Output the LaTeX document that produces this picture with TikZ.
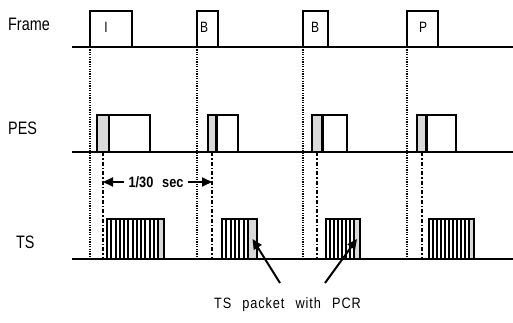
\documentclass[tikz,border=0pt]{standalone}
\usepackage{fontspec}
\setmainfont{Liberation Sans}
\newfontfamily\narrowfont[FakeStretch = 0.8]{Liberation Sans}
\newfontfamily\gapfont[FakeStretch = 0.85, WordSpace = 2.5]{Liberation Sans}
\newfontfamily\spacedfont[FakeStretch = 0.85, WordSpace = 2.5, LetterSpace = 6]{Liberation Sans}
\usetikzlibrary{positioning, calc, arrows.meta}
\definecolor{pcrgray}{gray}{0.85}
\tikzset{
rowlabel/.style = {anchor = base west, inner sep = 0pt,
   font = \narrowfont\fontsize{18pt}{20pt}\selectfont},
framelabel/.style = {anchor = base, inner sep = 0pt,
   font = \narrowfont\fontsize{15pt}{17pt}\selectfont},
periodlabel/.style = {inner sep = 4pt, font = \gapfont\bfseries\fontsize{15pt}{17pt}\selectfont},
pcrlabel/.style = {anchor = base, inner sep = 0pt,
   font = \spacedfont\fontsize{15pt}{17pt}\selectfont},
timeline/.style = {line width = 2pt},
framebox/.style = {rectangle, draw, line width = 2pt, minimum height = 36pt,
   inner sep = 0pt, outer sep = 0pt, anchor = south west},
pesheader/.style = {rectangle, draw, fill = pcrgray, line width = 2pt, minimum height = 37pt,
   inner sep = 0pt, outer sep = 0pt, anchor = south west},
pesbody/.style = {rectangle, draw, line width = 2pt, minimum height = 37pt,
   inner sep = 0pt, outer sep = 0pt},
startbar/.style = {line width = 3pt},
tsbox/.style = {rectangle, draw, line width = 2pt, minimum height = 40pt,
   inner sep = 0pt, outer sep = 0pt, anchor = south west},
pcrpacket/.style = {rectangle, draw, fill = pcrgray, line width = 2pt, minimum height = 40pt,
   inner sep = 0pt, outer sep = 0pt, anchor = south east},
stripe/.style = {line width = 2pt},
framesync/.style = {line width = 1.2pt, dash pattern = on 1.2pt off 1.2pt},
pessync/.style = {line width = 1.5pt, dash pattern = on 4pt off 2pt on 1.5pt off 2pt},
period/.style = {-{Triangle[length = 10pt, width = 9pt]}, line width = 2pt},
pointer/.style = {-{Triangle[length = 10pt, width = 9pt]}, line width = 2pt}
}

\begin{document}
\begin{tikzpicture}[x = 1pt, y = -1pt]
\useasboundingbox (0,0) rectangle (513,323);

%% Row labels
\node [rowlabel] (frame) at (8,31) {Frame};
\node [rowlabel] (pes) at (8,135) {PES};
\node [rowlabel] (ts) at (16,248) {TS};

%% The time lines
\coordinate (fl0) at (72,47);
\coordinate (fl1) at (513,47);
\coordinate (pl0) at (72,152);
\coordinate (pl1) at (513,152);
\coordinate (tl0) at (72,259);
\coordinate (tl1) at (513,259);
\draw [timeline] (fl0) -- (fl1);
\draw [timeline] (pl0) -- (pl1);
\draw [timeline] (tl0) -- (tl1);

%% Frames
\node [framebox, minimum width = 42pt] (f1) at (90,47) {};
\node [framebox, minimum width = 21pt] (f2) at (197,47) {};
\node [framebox, minimum width = 25pt] (f3) at (303,47) {};
\node [framebox, minimum width = 31pt] (f4) at (407,47) {};
\node [framelabel] (l1) at (106,33) {I};
\node [framelabel] (l2) at (204,33) {B};
\node [framelabel] (l3) at (315,33) {B};
\node [framelabel] (l4) at (423,33) {P};

%% PES packets
\node [pesheader, minimum width = 12pt] (h1) at (97,152) {};
\node [pesbody, minimum width = 41pt] (b1) [right = 0pt of h1] {};
\node [pesheader, minimum width = 8pt] (h2) at (208,152) {};
\node [pesbody, minimum width = 22pt] (b2) [right = 0pt of h2] {};
\node [pesheader, minimum width = 10pt] (h3) at (312,152) {};
\node [pesbody, minimum width = 25pt] (b3) [right = 0pt of h3] {};
\node [pesheader, minimum width = 9.5pt] (h4) at (417,152) {};
\node [pesbody, minimum width = 29.5pt] (b4) [right = 0pt of h4] {};
\draw [startbar] (h2.north east) -- (h2.south east);
\draw [startbar] (h3.north east) -- (h3.south east);
\draw [startbar] (h4.north east) -- (h4.south east);

%% TS packets
\node [tsbox, minimum width = 57pt] (ts1) at (107,259) {};
\node [pcrpacket, minimum width = 6pt] (p1) at (ts1.south east) {};
\foreach \i in {1,...,11}
   \draw [stripe] ($(ts1.south west)+(\i*4.25,0)$) -- ($(ts1.north west)+(\i*4.25,0)$);
\node [tsbox, minimum width = 35pt] (ts2) at (222,259) {};
\node [pcrpacket, minimum width = 9pt] (p2) at (ts2.south east) {};
\foreach \i in {1,...,5}
   \draw [stripe] ($(ts2.south west)+(\i*4.33,0)$) -- ($(ts2.north west)+(\i*4.33,0)$);
\node [tsbox, minimum width = 34pt] (ts3) at (326,259) {};
\node [pcrpacket, minimum width = 6pt] (p3) at (ts3.south east) {};
\foreach \i in {1,...,6}
   \draw [stripe] ($(ts3.south west)+(\i*4,0)$) -- ($(ts3.north west)+(\i*4,0)$);
\node [tsbox, minimum width = 45pt] (ts4) at (429,259) {};
\node [pcrpacket, minimum width = 5pt] (p4) at (ts4.south east) {};
\foreach \i in {1,...,9}
   \draw [stripe] ($(ts4.south west)+(\i*4,0)$) -- ($(ts4.north west)+(\i*4,0)$);

%% Frame start lines
\draw [framesync] (f1.south west) -- (f1.south west |- tl0);
\draw [framesync] (f2.south west) -- (f2.south west |- tl0);
\draw [framesync] (f3.south west) -- (f3.south west |- tl0);
\draw [framesync] (f4.south west) -- (f4.south west |- tl0);

%% PES start lines
\draw [pessync] (h1.south) -- (h1.south |- tl0);
\draw [pessync] (h2.south) -- (h2.south |- tl0);
\draw [pessync] (h3.south) -- (h3.south |- tl0);
\draw [pessync] (h4.south) -- (h4.south |- tl0);

%% Frame period
\node [periodlabel] (sec) at (156,182) {1/30 sec};
\path [period] (sec.west) edge (sec.west -| h1.south);
\path [period] (sec.east) edge (sec.east -| h2.south);

%% PCR packets
\node [pcrlabel] (pcr) at (287.5,308) {TS packet with PCR};
\coordinate (t2) at (280,283);
\coordinate (t3) at (325,283);
\path [pointer] (t2) edge (p2.center);
\path [pointer] (t3) edge (p3.center);

\end{tikzpicture}
\end{document}
